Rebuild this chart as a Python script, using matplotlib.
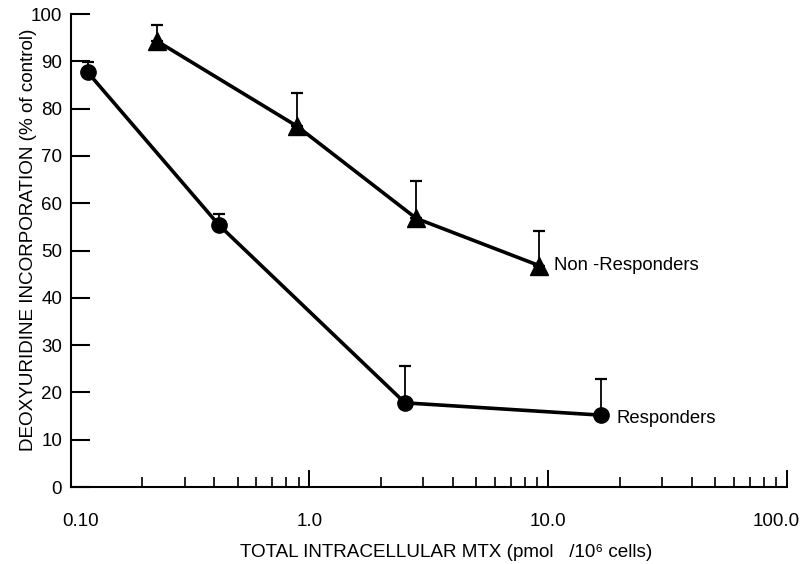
import matplotlib
matplotlib.use("Agg")
import matplotlib.pyplot as plt
from matplotlib.ticker import FixedLocator, NullFormatter, LogLocator
import matplotlib.transforms as mtransforms

plt.rcParams['font.family'] = ['Liberation Sans', 'DejaVu Sans']

# Data
resp_x = [0.118, 0.418, 2.51, 16.6]
resp_y = [87.7, 55.4, 17.8, 15.2]
resp_err = [2.2, 2.3, 7.8, 7.6]

nonresp_x = [0.230, 0.887, 2.80, 9.17]
nonresp_y = [94.3, 76.3, 56.8, 46.8]
nonresp_err = [3.4, 7.0, 8.0, 7.3]

x_ticks = [0.1, 1.0, 10.0, 100.0]
x_labels = ["0.10", "1.0", "10.0", "100.0"]
y_ticks = [0, 10, 20, 30, 40, 50, 60, 70, 80, 90, 100]

fig = plt.figure(figsize=(8.05, 5.64), dpi=100)
ax = fig.add_axes([0.0876, 0.1365, 0.8904, 0.8385])

ax.set_xscale('log')
ax.set_xlim(0.1, 100)
ax.set_ylim(0, 100)

lw = 2.6
ax.errorbar(resp_x, resp_y, yerr=[[0]*4, resp_err], fmt='none', ecolor='black',
            elinewidth=1.3, capsize=4, capthick=1.6, zorder=2)
ax.errorbar(nonresp_x, nonresp_y, yerr=[[0]*4, nonresp_err], fmt='none', ecolor='black',
            elinewidth=1.3, capsize=4, capthick=1.6, zorder=2)
ax.plot(resp_x, resp_y, color='black', lw=lw, marker='o', markersize=11, zorder=3)
ax.plot(nonresp_x, nonresp_y, color='black', lw=lw, marker='^', markersize=13, zorder=3)

ax.text(10.6, nonresp_y[-1], "Non -Responders", fontsize=13.3, va='center', ha='left')
ax.text(19.3, resp_y[-1] - 0.8, "Responders", fontsize=13.3, va='center', ha='left')

for s in ['top', 'right']:
    ax.spines[s].set_visible(False)
for s in ['left', 'bottom']:
    ax.spines[s].set_linewidth(1.5)

ax.set_yticks(y_ticks)
ax.set_yticklabels([str(v) for v in y_ticks], fontsize=13.5)
ax.tick_params(axis='y', direction='in', length=14, width=1.5, pad=6)

ax.xaxis.set_major_locator(FixedLocator(x_ticks))
ax.set_xticklabels(x_labels, fontsize=13.5)
ax.xaxis.set_minor_locator(LogLocator(base=10, subs=range(2, 10)))
ax.xaxis.set_minor_formatter(NullFormatter())
ax.tick_params(axis='x', which='major', direction='in', length=12, width=1.4, pad=19)
ax.tick_params(axis='x', which='minor', direction='in', length=7, width=1.2)

# shift edge labels inward like the reference
lbls = ax.get_xticklabels()
lbls[0].set_transform(lbls[0].get_transform() + mtransforms.ScaledTranslation(10/100, 0, fig.dpi_scale_trans))
lbls[-1].set_transform(lbls[-1].get_transform() + mtransforms.ScaledTranslation(-11/100, 0, fig.dpi_scale_trans))

xl = ax.set_xlabel("TOTAL INTRACELLULAR MTX (pmol   /10\u2076 cells)", fontsize=13.6)
xl.set_va('center')
ax.xaxis.set_label_coords(0.524, -0.138)
ax.set_ylabel("DEOXYURIDINE INCORPORATION (% of control)", fontsize=13.6)
ax.yaxis.set_label_coords(-0.047, 0.522)

fig.savefig("out.png", dpi=100)
